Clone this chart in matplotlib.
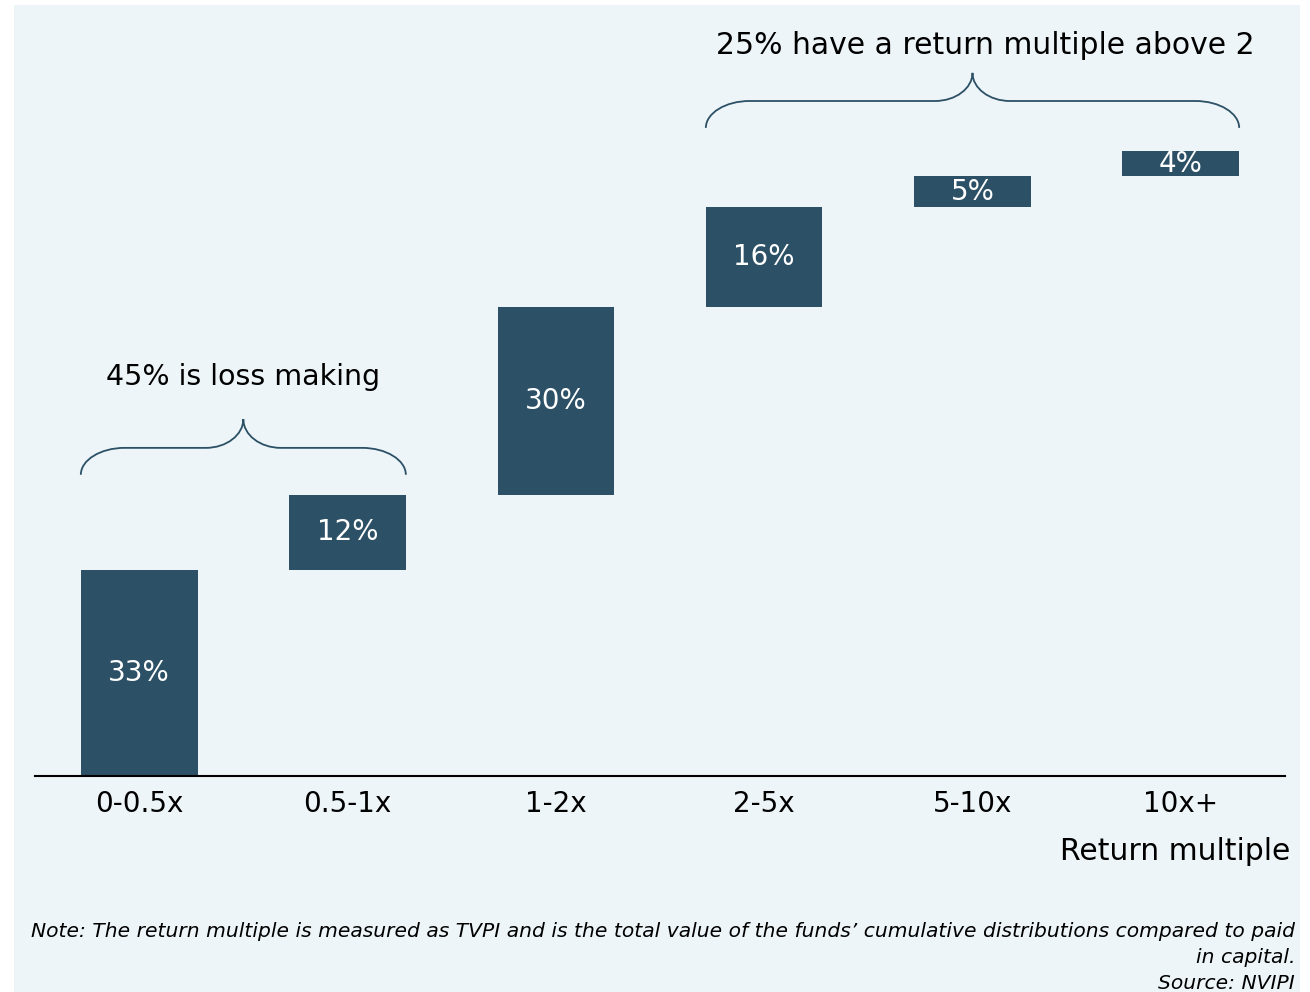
import matplotlib.pyplot as plt
from matplotlib.patches import Rectangle, PathPatch
from matplotlib.path import Path
import numpy as np

categories = ['0-0.5x', '0.5-1x', '1-2x', '2-5x', '5-10x', '10x+']
shares = [33, 12, 30, 16, 5, 4]
labels = ['33%', '12%', '30%', '16%', '5%', '4%']
note = ("Note: The return multiple is measured as TVPI and is the total value of the funds\u2019 cumulative distributions compared to paid\n"
        "in capital.\n"
        "Source: NVIPI")

bar_color = '#2c5066'
panel_color = '#edf5f8'
plt.rcParams['font.family'] = ['DejaVu Sans']


def brace(ax, x0, x1, y_end, y_mid, y_tip, dx_end=0.21, dx_tip=0.18):
    xm = (x0 + x1) / 2
    h1 = y_mid - y_end
    h2 = y_tip - y_mid
    verts = [
        (x0, y_end),
        (x0, y_end + 0.55 * h1), (x0 + 0.45 * dx_end, y_mid), (x0 + dx_end, y_mid),
        (xm - dx_tip, y_mid),
        (xm - 0.45 * dx_tip, y_mid), (xm, y_mid + 0.45 * h2), (xm, y_tip),
        (xm, y_mid + 0.45 * h2), (xm + 0.45 * dx_tip, y_mid), (xm + dx_tip, y_mid),
        (x1 - dx_end, y_mid),
        (x1 - 0.45 * dx_end, y_mid), (x1, y_end + 0.55 * h1), (x1, y_end),
    ]
    codes = [Path.MOVETO] + [Path.CURVE4] * 3 + [Path.LINETO] + [Path.CURVE4] * 6 \
        + [Path.LINETO] + [Path.CURVE4] * 3
    ax.add_patch(PathPatch(Path(verts, codes), fill=False, edgecolor=bar_color,
                           lw=1.3, clip_on=False))


fig = plt.figure(figsize=(13.1, 9.92), dpi=100)
fig.patches.append(Rectangle((14 / 1310, 0), 1286 / 1310, 987 / 992,
                             transform=fig.transFigure, facecolor=panel_color,
                             edgecolor='none', zorder=-10))

ax = fig.add_axes([35 / 1310, 216 / 992, 1250 / 1310, 625 / 992])
ax.set_facecolor('none')

x = np.arange(len(categories))
tops = np.cumsum(shares)
bottoms = tops - np.array(shares)
width = 0.56
ax.bar(x, shares, bottom=bottoms, width=width, color=bar_color)

for xi, b, v, lab in zip(x, bottoms, shares, labels):
    ax.text(xi, b + v / 2, lab, ha='center', va='center', color='white', fontsize=20)

ax.set_xlim(-0.5, len(categories) - 0.5)
ax.set_ylim(0, 100)
ax.set_xticks(x)
ax.set_xticklabels(categories, fontsize=20)
ax.tick_params(axis='x', length=0, pad=10)
ax.set_yticks([])
for s in ['top', 'right', 'left']:
    ax.spines[s].set_visible(False)
ax.spines['bottom'].set_linewidth(1.5)

# braces
brace(ax, 0 - width / 2, 1 + width / 2, 48.2, 52.5, 57.1)
ax.text(0.5, 63.8, '45% is loss making', ha='center', va='center', fontsize=20.5, clip_on=False)
brace(ax, 3 - width / 2, 5 + width / 2, 103.7, 108, 112.5)
ax.text(4.06, 116.8, '25% have a return multiple above 2', ha='center', va='center',
        fontsize=21.5, clip_on=False)

fig.text(1290 / 1310, 1 - 851 / 992, 'Return multiple', ha='right', va='center', fontsize=21.5)
fig.text(1295 / 1310, 1 - 922 / 992, note, ha='right', va='top', fontsize=14.6,
         style='italic', multialignment='right', linespacing=1.48)

fig.savefig('out.png', dpi=100, facecolor='white')
